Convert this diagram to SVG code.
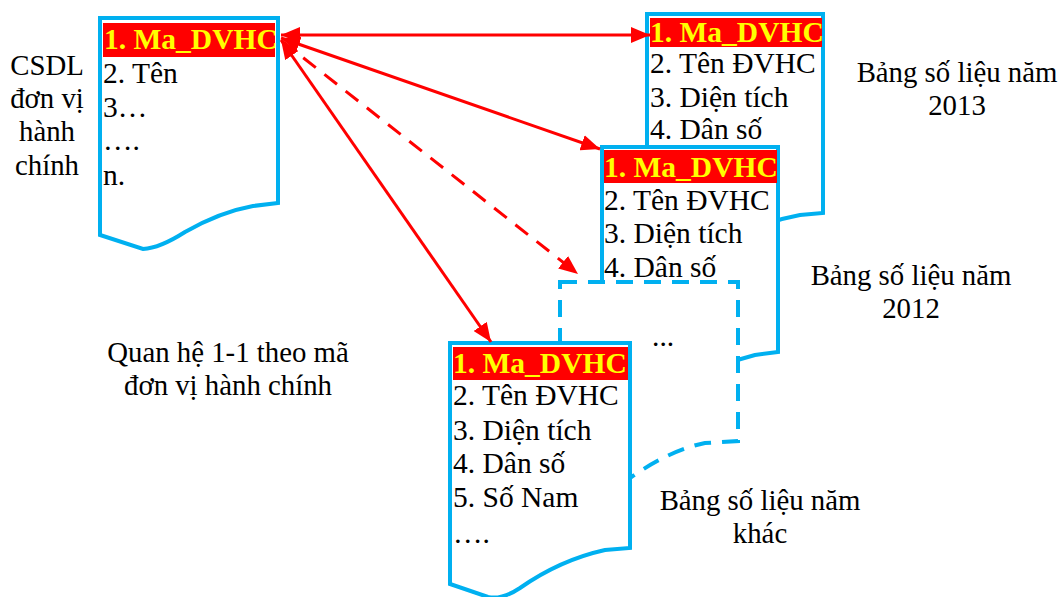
<svg xmlns="http://www.w3.org/2000/svg" width="1062" height="597" viewBox="0 0 1062 597">
  <style>
    .doc { fill: #ffffff; stroke: #00b0f0; stroke-width: 4; stroke-linejoin: miter; }
    .dashed { stroke-dasharray: 17 11; }
    .hdr { fill: #ff0000; }
    .t { font-family: "Liberation Serif", "Times New Roman", serif; font-size: 29.5px; fill: #000000; }
    .key { font-family: "Liberation Serif", "Times New Roman", serif; font-size: 29.5px; font-weight: bold; fill: #ffff00; }
    .lbl { font-family: "Liberation Serif", "Times New Roman", serif; font-size: 28.8px; fill: #000000; text-anchor: middle; }
    .link { stroke: #ff0000; stroke-width: 3; fill: none; }
  </style>
  <defs>
    <marker id="arrow" markerUnits="userSpaceOnUse" markerWidth="20" markerHeight="16" refX="19" refY="8" orient="auto-start-reverse">
      <path d="M0,0 L19,8 L0,16 Z" fill="#ff0000"/>
    </marker>
  </defs>

  <rect width="1062" height="597" fill="#ffffff"/>

  <!-- table: 2013 -->
  <g id="table-2013">
    <path class="doc" d="M647,14 H823 V213 L800,215 Q760,222 720,245 Q700,256 680,250 L647,240 Z"/>
    <rect class="hdr" x="650" y="18" width="172" height="29"/>
    <text class="key" x="650" y="42">1. Ma_DVHC</text>
    <text class="t" x="650" y="73">2. Tên ĐVHC</text>
    <text class="t" x="650" y="107">3. Diện tích</text>
    <text class="t" x="650" y="139">4. Dân số</text>
  </g>

  <!-- table: 2012 -->
  <g id="table-2012">
    <path class="doc" d="M602,147 H778 V352 L755,355 Q715,365 680,385 Q665,392 650,388 L602,372 Z"/>
    <rect class="hdr" x="604" y="150" width="173" height="33"/>
    <text class="key" x="604" y="177">1. Ma_DVHC</text>
    <text class="t" x="604" y="210">2. Tên ĐVHC</text>
    <text class="t" x="604" y="243">3. Diện tích</text>
    <text class="t" x="604" y="277">4. Dân số</text>
  </g>

  <!-- table: other years (dashed) -->
  <g id="table-other">
    <path class="doc dashed" d="M560,282 H738 V441 L705,443 Q670,450 630,478 Q600,500 580,495 L560,488 Z"/>
    <text class="t" x="652" y="346">...</text>
  </g>

  <!-- table: detailed data -->
  <g id="table-detail">
    <path class="doc" d="M450,343 H630 V548 L605,550 Q560,560 520,588 Q502,600 488,597 L450,584 Z"/>
    <rect class="hdr" x="453" y="347" width="175" height="33"/>
    <text class="key" x="453" y="373">1. Ma_DVHC</text>
    <text class="t" x="453" y="405">2. Tên ĐVHC</text>
    <text class="t" x="453" y="440">3. Diện tích</text>
    <text class="t" x="453" y="473">4. Dân số</text>
    <text class="t" x="453" y="507">5. Số Nam</text>
    <text class="t" x="453" y="543">….</text>
  </g>

  <!-- administrative unit database -->
  <g id="csdl">
    <path class="doc" d="M100,18 H278 V203 L253,206 Q220,212 185,232 Q160,248 143,249 L100,235 Z"/>
    <rect class="hdr" x="103" y="23" width="172" height="34"/>
    <text class="key" x="104" y="49">1. Ma_DVHC</text>
    <text class="t" x="103" y="83">2. Tên</text>
    <text class="t" x="103" y="117">3…</text>
    <text class="t" x="103" y="150">….</text>
    <text class="t" x="103" y="185">n.</text>
  </g>

  <!-- relations on the unit code -->
  <g id="connectors">
    <line class="link" x1="281" y1="35" x2="650" y2="35" marker-start="url(#arrow)" marker-end="url(#arrow)"/>
    <line class="link" x1="281" y1="38" x2="600" y2="149" marker-start="url(#arrow)" marker-end="url(#arrow)"/>
    <line class="link" x1="281" y1="40" x2="491" y2="342" marker-start="url(#arrow)" marker-end="url(#arrow)"/>
    <line class="link" x1="282" y1="41" x2="578" y2="274" stroke-dasharray="16 11" marker-end="url(#arrow)"/>
  </g>

  <!-- labels -->
  <g id="labels">
    <text class="lbl" x="47" y="75">CSDL</text>
    <text class="lbl" x="47" y="108">đơn vị</text>
    <text class="lbl" x="47" y="141">hành</text>
    <text class="lbl" x="47" y="175">chính</text>
    <text class="lbl" x="957" y="82">Bảng số liệu năm</text>
    <text class="lbl" x="957" y="115">2013</text>
    <text class="lbl" x="911" y="285">Bảng số liệu năm</text>
    <text class="lbl" x="911" y="318">2012</text>
    <text class="lbl" x="760" y="510">Bảng số liệu năm</text>
    <text class="lbl" x="760" y="543">khác</text>
    <text class="lbl" x="228" y="362">Quan hệ 1-1 theo mã</text>
    <text class="lbl" x="228" y="395">đơn vị hành chính</text>
  </g>
</svg>
